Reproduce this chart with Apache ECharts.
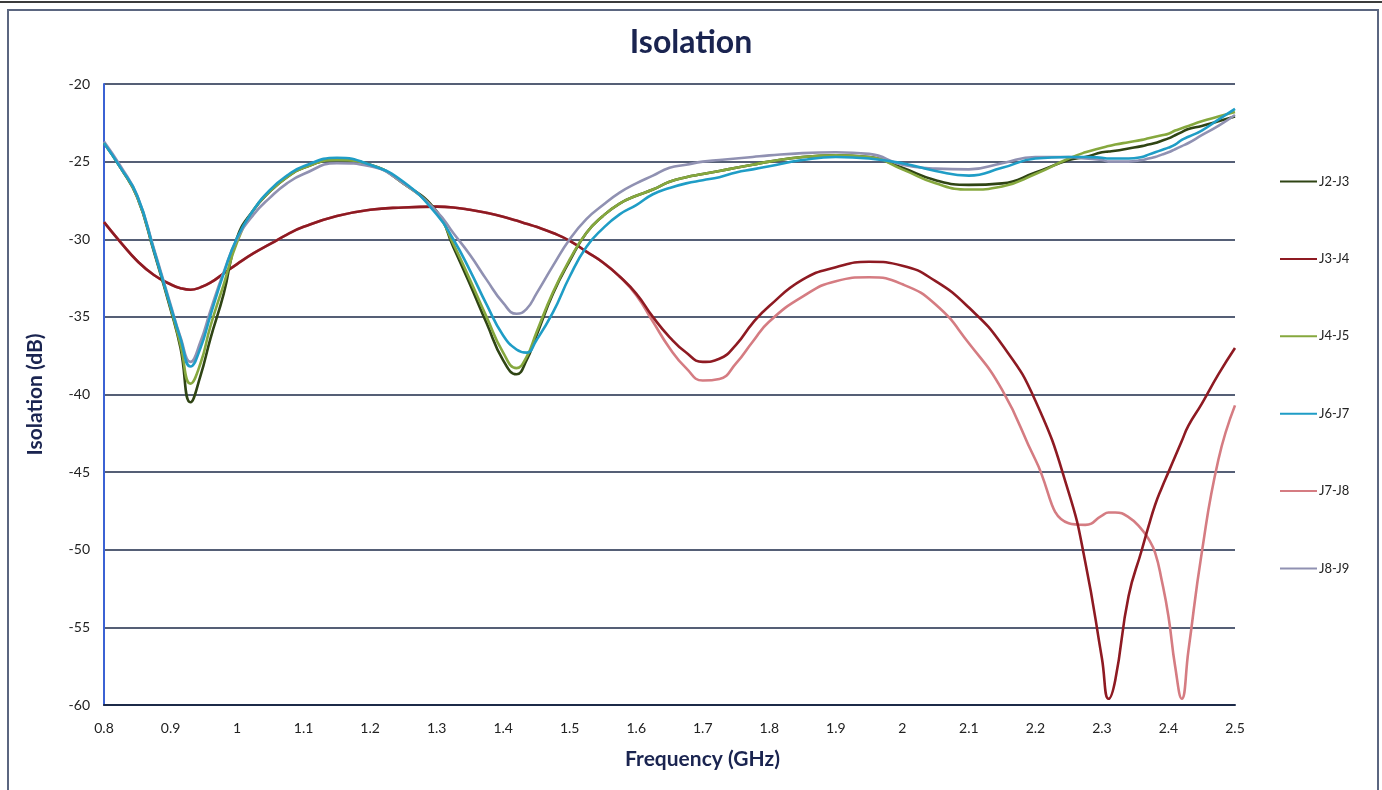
<!DOCTYPE html>
<html>
<head>
<meta charset="utf-8">
<script src="https://cdn.jsdelivr.net/npm/echarts@6/dist/echarts.min.js"></script>
<style>
  html, body { margin: 0; padding: 0; background: #ffffff; }
  #chart { position: absolute; left: 0; top: 0; width: 1382px; height: 790px; }
  #frame { position: absolute; left: 7px; top: 9px; width: 1368px; height: 790px; border: 2px solid #5b6680; border-bottom: none; pointer-events: none; }
  #topline { position: absolute; left: 0; top: 1px; width: 1382px; height: 0; border-top: 2px solid #3c3c3c; pointer-events: none; }
</style>
</head>
<body>
<div id="chart"></div>
<div id="frame"></div>
<div id="topline"></div>
<script>
const freq = [0.8, 0.825, 0.85, 0.875, 0.9, 0.915, 0.93, 0.945, 0.96, 0.98, 1.0, 1.025, 1.05, 1.075, 1.1, 1.15, 1.2, 1.25, 1.3, 1.325, 1.35, 1.375, 1.4, 1.42, 1.435, 1.45, 1.475, 1.5, 1.525, 1.55, 1.575, 1.6, 1.625, 1.65, 1.675, 1.7, 1.725, 1.75, 1.775, 1.8, 1.85, 1.9, 1.95, 2.0, 2.05, 2.1, 2.15, 2.2, 2.25, 2.275, 2.3, 2.31, 2.32, 2.34, 2.36, 2.37, 2.38, 2.39, 2.4, 2.41, 2.42, 2.43, 2.45, 2.475, 2.5];

const j2j3 = [-23.8, -25.4, -27.3, -30.8, -34.5, -37.0, -40.5, -38.8, -36.4, -33.5, -29.9, -28.1, -26.9, -26.0, -25.4, -24.9, -25.2, -26.4, -28.2, -30.5, -32.9, -35.4, -37.8, -38.7, -37.8, -36.2, -33.5, -31.4, -29.6, -28.5, -27.7, -27.2, -26.8, -26.3, -26.0, -25.8, -25.6, -25.4, -25.2, -25.0, -24.7, -24.6, -24.7, -25.4, -26.2, -26.5, -26.4, -25.7, -24.9, -24.7, -24.4, -24.35, -24.3, -24.15, -24.0, -23.9, -23.8, -23.65, -23.5, -23.3, -23.1, -22.9, -22.7, -22.4, -22.1];

const j3j4 = [-28.9, -30.2, -31.4, -32.3, -32.9, -33.15, -33.25, -33.1, -32.8, -32.2, -31.6, -30.9, -30.3, -29.7, -29.2, -28.5, -28.1, -27.95, -27.9, -27.95, -28.1, -28.3, -28.55, -28.8, -29.0, -29.2, -29.6, -30.1, -30.8, -31.5, -32.4, -33.5, -35.0, -36.3, -37.3, -37.9, -37.7, -36.8, -35.4, -34.3, -32.6, -31.8, -31.45, -31.7, -32.7, -34.4, -36.8, -40.4, -46.3, -50.8, -57.0, -59.6, -58.4, -53.0, -50.0, -48.5, -47.1, -46.0, -45.0, -44.0, -43.0, -42.0, -40.6, -38.7, -37.0];

const j4j5 = [-23.8, -25.4, -27.3, -30.7, -34.4, -36.8, -39.3, -38.0, -35.6, -32.9, -30.2, -28.1, -26.9, -26.0, -25.4, -24.9, -25.2, -26.4, -28.3, -30.3, -32.6, -35.0, -37.3, -38.3, -37.6, -36.0, -33.4, -31.3, -29.6, -28.5, -27.7, -27.2, -26.8, -26.3, -26.0, -25.8, -25.6, -25.4, -25.2, -25.0, -24.7, -24.6, -24.7, -25.5, -26.4, -26.8, -26.6, -25.8, -24.8, -24.4, -24.1, -24.0, -23.9, -23.75, -23.6, -23.5, -23.4, -23.3, -23.2, -23.0, -22.85, -22.7, -22.4, -22.1, -21.8];

const j6j7 = [-23.8, -25.4, -27.2, -30.7, -34.3, -36.4, -38.2, -37.0, -34.9, -32.2, -29.9, -28.1, -26.8, -25.9, -25.3, -24.75, -25.2, -26.3, -28.4, -30.0, -32.0, -34.2, -36.2, -37.1, -37.3, -36.5, -34.7, -32.4, -30.5, -29.3, -28.4, -27.8, -27.1, -26.7, -26.4, -26.2, -26.0, -25.7, -25.5, -25.3, -24.9, -24.7, -24.8, -25.1, -25.6, -25.9, -25.4, -24.8, -24.7, -24.7, -24.75, -24.8, -24.8, -24.8, -24.7, -24.55, -24.4, -24.25, -24.1, -23.9, -23.6, -23.4, -23.0, -22.3, -21.6];

const j7j8 = [-28.9, -30.2, -31.4, -32.3, -32.9, -33.15, -33.25, -33.1, -32.8, -32.2, -31.6, -30.9, -30.3, -29.7, -29.2, -28.5, -28.1, -27.95, -27.9, -27.95, -28.1, -28.3, -28.55, -28.8, -29.0, -29.2, -29.6, -30.1, -30.8, -31.5, -32.4, -33.6, -35.3, -37.0, -38.3, -39.1, -39.0, -38.0, -36.6, -35.3, -33.7, -32.7, -32.45, -32.9, -34.2, -36.7, -39.7, -44.2, -48.3, -48.4, -47.8, -47.6, -47.6, -47.9, -48.7, -49.3, -50.2, -52.0, -54.3, -57.5, -59.6, -56.5, -50.2, -44.2, -40.7];

const j8j9 = [-23.7, -25.3, -27.2, -30.6, -34.2, -36.3, -37.9, -36.6, -34.6, -32.1, -30.0, -28.4, -27.3, -26.4, -25.8, -25.1, -25.3, -26.4, -28.2, -29.6, -31.0, -32.6, -34.1, -34.8, -34.5, -33.5, -31.7, -30.0, -28.7, -27.8, -27.0, -26.4, -25.9, -25.4, -25.2, -25.0, -24.9, -24.8, -24.7, -24.6, -24.45, -24.4, -24.5, -25.2, -25.45, -25.5, -25.1, -24.7, -24.7, -24.8, -24.9, -25.0, -25.0, -25.0, -24.9, -24.8, -24.7, -24.55, -24.4, -24.2, -24.0, -23.8, -23.3, -22.7, -22.0];

const seriesNames = ['J2-J3', 'J3-J4', 'J4-J5', 'J6-J7', 'J7-J8', 'J8-J9'];
const seriesValues = [j2j3, j3j4, j4j5, j6j7, j7j8, j8j9];
const seriesColors = ['#2f4414', '#8e1a22', '#86a83e', '#1f9dc6', '#d57c82', '#9091b2'];
const xTicks = [0.8, 0.9, 1, 1.1, 1.2, 1.3, 1.4, 1.5, 1.6, 1.7, 1.8, 1.9, 2, 2.1, 2.2, 2.3, 2.4, 2.5];
const yTicks = [-60, -55, -50, -45, -40, -35, -30, -25, -20];

const FONT = 'Lato, "Open Sans", sans-serif';
const chart = echarts.init(document.getElementById('chart'), null, { renderer: 'canvas' });

const drawOrder = [4, 1, 0, 2, 5, 3];
const series = drawOrder.map(i => ({
  name: seriesNames[i],
  type: 'line',
  data: freq.map((f, k) => [f, seriesValues[i][k]]),
  smooth: 0.5,
  symbol: 'none',
  lineStyle: { color: seriesColors[i], width: 2.6 },
  itemStyle: { color: seriesColors[i] },
  z: 3
}));

chart.setOption({
  animation: false,
  backgroundColor: '#ffffff',
  title: {
    text: 'Isolation',
    left: 'center',
    top: 22,
    textStyle: { fontFamily: FONT, fontSize: 32, fontWeight: 'bold', color: '#1a2450' }
  },
  legend: {
    data: seriesNames,
    orient: 'vertical',
    left: 1275,
    top: 170,
    itemWidth: 37,
    itemHeight: 14,
    itemGap: 64.4,
    icon: 'path://M0,6 L37,6 L37,8 L0,8 Z',
    itemStyle: { borderWidth: 0 },
    textStyle: { fontFamily: FONT, fontSize: 13, color: '#222222', padding: [0, 0, 0, -3] }
  },
  grid: { left: 104, right: 147, top: 84, bottom: 85, containLabel: false },
  xAxis: {
    type: 'value',
    min: 0.8,
    max: 2.5,
    interval: 0.1,
    name: 'Frequency (GHz)',
    nameLocation: 'middle',
    nameGap: 44,
    nameTextStyle: { fontFamily: FONT, fontSize: 21, fontWeight: 'bold', color: '#1a2450', padding: [0, 0, 0, 66] },
    axisLine: { show: true, lineStyle: { color: '#1c2a48', width: 2 } },
    axisTick: { show: false },
    splitLine: { show: false },
    axisLabel: {
      fontFamily: FONT, fontSize: 14, color: '#222222', margin: 16,
      formatter: v => {
        const r = Math.round(v * 10) / 10;
        return xTicks.indexOf(r) >= 0 ? String(r) : '';
      }
    }
  },
  yAxis: {
    type: 'value',
    min: -60,
    max: -20,
    interval: 5,
    name: 'Isolation (dB)',
    nameLocation: 'middle',
    nameGap: 58,
    nameTextStyle: { fontFamily: FONT, fontSize: 21, fontWeight: 'bold', color: '#1a2450' },
    axisLine: { show: true, onZero: false, lineStyle: { color: '#3b62d4', width: 2 } },
    axisTick: { show: false },
    axisLabel: {
      fontFamily: FONT, fontSize: 14, color: '#222222', margin: 14,
      formatter: v => (yTicks.indexOf(v) >= 0 ? String(v) : '')
    },
    splitLine: { show: true, lineStyle: { color: '#1c2a48', width: 1.6 } }
  },
  series: series
});
</script>
</body>
</html>
